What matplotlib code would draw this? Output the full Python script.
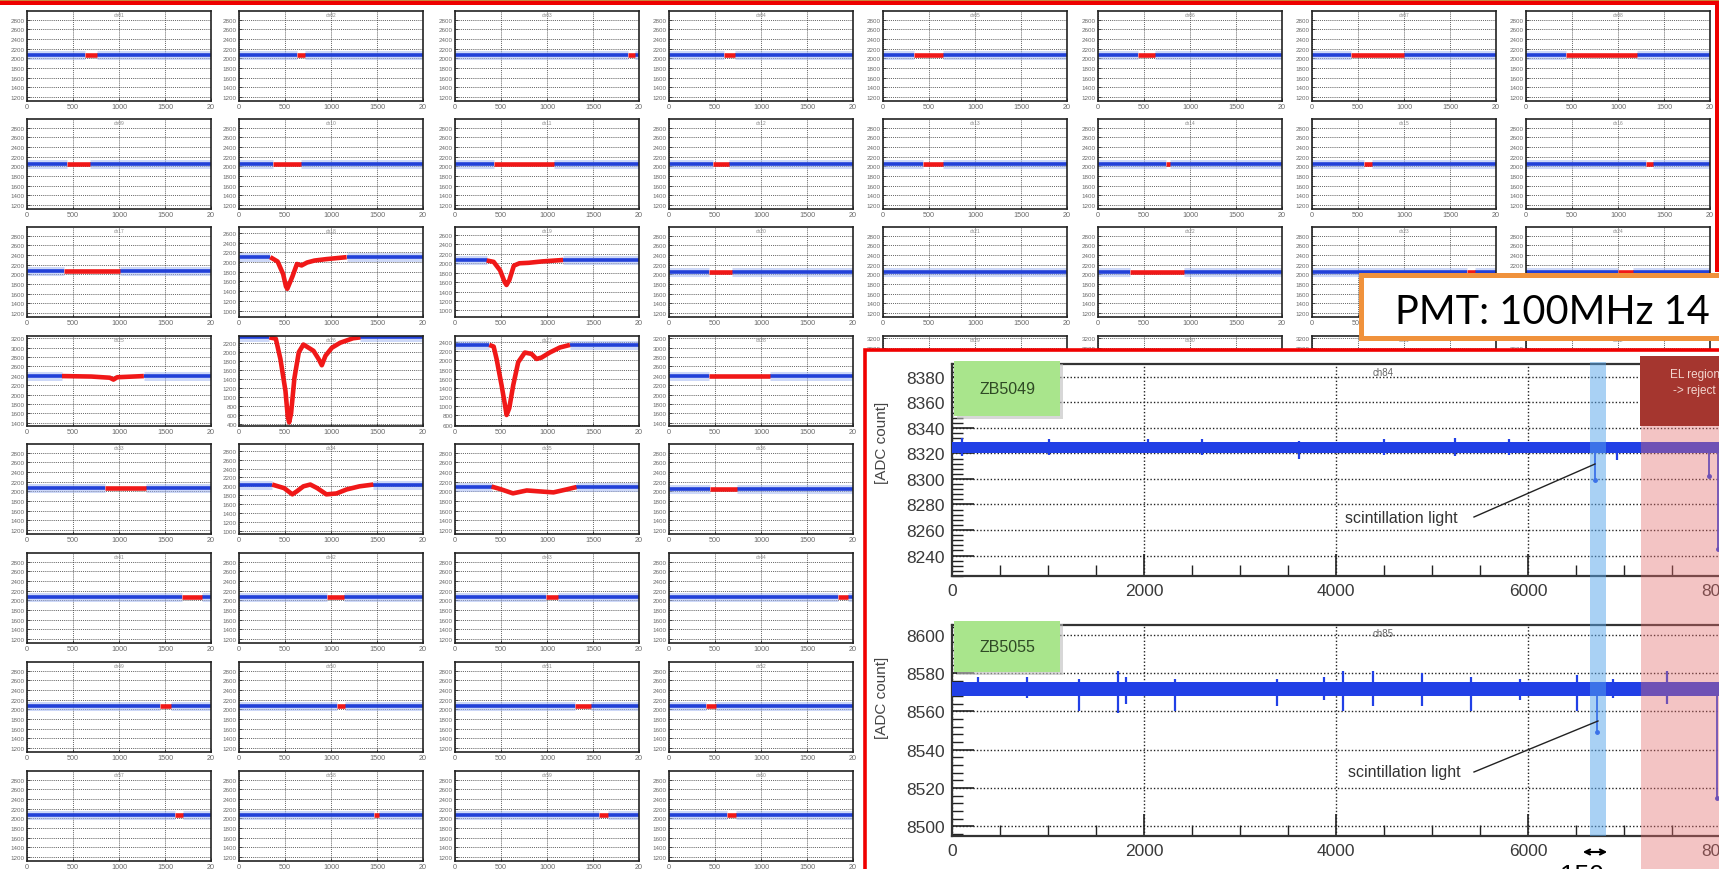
import numpy as np
import matplotlib
matplotlib.use("Agg")
import matplotlib.pyplot as plt
from matplotlib.patches import Rectangle, FancyArrowPatch
from matplotlib.lines import Line2D
from matplotlib.ticker import MultipleLocator

plt.rcParams['font.family'] = ['Liberation Sans', 'DejaVu Sans']

# ---------------------------------------------------------------- data
small_xticks = [0, 500, 1000, 1500, 2000]
small_xticklabels = ["0", "500", "1000", "1500", "20"]

# baseline ADC level of each small waveform panel (rows 5-8 only 4 visible columns)
baseline = [
    [2080, 2080, 2080, 2080, 2070, 2070, 2070, 2070],
    [2040, 2040, 2050, 2040, 2040, 2040, 2040, 2040],
    [2080, 2100, 2060, 2040, 2060, 2060, 2050, 2050],
    [2400, 2320, 2336, 2390, 2400, 2400, 2400, 2400],
    [2080, 2040, 2100, 2050],
    [2070, 2070, 2070, 2070],
    [2070, 2070, 2070, 2070],
    [2070, 2070, 2070, 2070],
]
ylim_low = [
    [1120] * 8,
    [1120] * 8,
    [1120, 870, 860, 1120, 1120, 1120, 1120, 1120],
    [1330, 350, 570, 1330, 1330, 1330, 1330, 1330],
    [1120, 930, 1120, 1120],
    [1120] * 4,
    [1120] * 4,
    [1120] * 4,
]
ylim_high = [
    [2980] * 8,
    [2980] * 8,
    [2980, 2720, 2770, 2980, 2980, 2980, 2980, 2980],
    [3250, 2350, 2530, 3250, 3250, 3250, 3250, 3250],
    [2980, 2950, 2980, 2980],
    [2980] * 4,
    [2980] * 4,
    [2980] * 4,
]
# red (selected) window of each panel, None = no window
red_start = [
    [630, 630, 1880, 600, 340, 440, 420, 440],
    [435, 365, 420, 480, 435, 740, 560, 1300],
    [400, 340, 344, 430, None, 350, 1680, 1000],
    [380, 330, 372, 430, 400, 400, 400, 400],
    [850, 360, 398, 445],
    [1680, 960, 990, 1840],
    [1450, 1060, 1300, 400],
    [1610, 1470, 1570, 635],
]
red_end = [
    [760, 720, 1960, 720, 650, 620, 1000, 1210],
    [680, 670, 1080, 650, 650, 780, 650, 1380],
    [1010, 1170, 1175, 680, None, 940, 1770, 1160],
    [1270, 1320, 1250, 1100, 900, 900, 900, 900],
    [1290, 1460, 1320, 735],
    [1900, 1140, 1120, 1950],
    [1560, 1150, 1480, 510],
    [1700, 1525, 1660, 730],
]

# pulse shapes (red part)
pulse_r3c2_x = [340, 420, 480, 510, 525, 545, 580, 630, 680, 740, 820, 950, 1170]
pulse_r3c2_y = [2100, 2010, 1750, 1500, 1450, 1540, 1700, 1960, 1930, 1990, 2030, 2060, 2100]
pulse_r3c3_x = [344, 420, 490, 540, 560, 590, 640, 700, 800, 950, 1175]
pulse_r3c3_y = [2060, 2030, 1850, 1600, 1540, 1640, 1950, 2000, 2010, 2040, 2070]
pulse_r4c1_x = [380, 700, 900, 940, 980, 1270]
pulse_r4c1_y = [2395, 2385, 2360, 2320, 2370, 2395]
pulse_r4c2_x = [330, 400, 450, 505, 530, 545, 566, 602, 650, 700, 740, 810, 865, 900, 940, 1010, 1100, 1240, 1320]
pulse_r4c2_y = [2320, 2290, 1840, 1130, 560, 430, 630, 1410, 1990, 2160, 2110, 2020, 1840, 1700, 1910, 2090, 2200, 2300, 2320]
pulse_r4c3_x = [372, 420, 452, 506, 543, 561, 590, 633, 687, 759, 832, 886, 940, 1030, 1140, 1250]
pulse_r4c3_y = [2336, 2300, 2030, 1460, 1030, 810, 960, 1460, 1960, 2170, 2140, 2030, 2060, 2170, 2280, 2336]
pulse_r5c2_x = [360, 490, 580, 630, 700, 775, 850, 950, 1060, 1170, 1310, 1460]
pulse_r5c2_y = [2040, 1960, 1820, 1890, 2000, 2040, 1960, 1820, 1840, 1930, 2000, 2040]
pulse_r5c3_x = [398, 490, 630, 780, 920, 1070, 1210, 1320]
pulse_r5c3_y = [2100, 2050, 1960, 2020, 2000, 1980, 2040, 2090]

# large inset waveforms
inset_xticks = [0, 2000, 4000, 6000, 8000]
inset_xticklabels = ["0", "2000", "4000", "6000", "8000"]

ch84_yticks = [8240, 8260, 8280, 8300, 8320, 8340, 8360, 8380]
ch84_ylim = (8224, 8390)
ch84_band = (8320, 8329)
ch84_spike_x = [100, 1013, 2042, 2600, 3614, 4500, 5239, 5800, 6927]
ch84_spike_hi = [8332, 8331, 8331, 8331, 8330, 8331, 8332, 8331, 8329]
ch84_spike_lo = [8318, 8319, 8320, 8319, 8316, 8319, 8318, 8319, 8315]
ch84_pulse_x = [6700, 7886, 7975]
ch84_pulse_min = [8299, 8302, 8245]

ch85_yticks = [8500, 8520, 8540, 8560, 8580, 8600]
ch85_ylim = (8495, 8605)
ch85_band = (8568, 8575.5)
ch85_spike_x = [271, 781, 1323, 1729, 1812, 2323, 3385, 3875, 4073, 4382, 4893, 5403, 5916, 6507, 6888, 7445]
ch85_spike_hi = [8578, 8578, 8577, 8581, 8578, 8577, 8577, 8578, 8581, 8581, 8580, 8578, 8577, 8579, 8577, 8581]
ch85_spike_lo = [8568, 8567, 8560, 8559, 8564, 8560, 8563, 8566, 8560, 8563, 8563, 8560, 8566, 8560, 8567, 8564]
ch85_pulse_x = [6715, 7966]
ch85_pulse_min = [8549, 8515]

# ---------------------------------------------------------------- helpers
W, H = 1719, 870
fig = plt.figure(figsize=(W / 100, H / 100), dpi=100)
fig.patch.set_facecolor('white')


def axes_px(left, top, width, height):
    return fig.add_axes([left / W, 1 - (top + height) / H, width / W, height / H])


def rect_px(x0, y0, x1, y1, **kw):
    r = Rectangle((x0 / W, 1 - y1 / H), (x1 - x0) / W, (y1 - y0) / H,
                  transform=fig.transFigure, **kw)
    fig.add_artist(r)
    return r


def text_px(x, y, s, **kw):
    return fig.text(x / W, 1 - y / H, s, **kw)


def line_px(xs, ys, **kw):
    ln = Line2D([x / W for x in xs], [1 - y / H for y in ys], transform=fig.transFigure, **kw)
    fig.add_artist(ln)
    return ln


pulses = {
    (2, 1): (pulse_r3c2_x, pulse_r3c2_y),
    (2, 2): (pulse_r3c3_x, pulse_r3c3_y),
    (3, 0): (pulse_r4c1_x, pulse_r4c1_y),
    (3, 1): (pulse_r4c2_x, pulse_r4c2_y),
    (3, 2): (pulse_r4c3_x, pulse_r4c3_y),
    (4, 1): (pulse_r5c2_x, pulse_r5c2_y),
    (4, 2): (pulse_r5c3_x, pulse_r5c3_y),
}

COL_LEFT = [27, 239, 455, 669, 883, 1098, 1312, 1526]
ROW_TOP = [12, 120, 228, 337, 445, 554, 663, 772]
PW, PH = 184, 90
BLUE = '#2140d8'
HALO = '#9db2f2'
RED = '#f01818'

# ---------------------------------------------------------------- small panels
for r in range(8):
    for c in range(len(baseline[r])):
        ax = axes_px(COL_LEFT[c], ROW_TOP[r], PW, PH)
        ax.set_zorder(0)
        lo, hi = ylim_low[r][c], ylim_high[r][c]
        ax.set_xlim(0, 2000)
        ax.set_ylim(lo, hi)
        yt = np.arange(np.ceil(lo / 200) * 200, hi + 1, 200)
        ax.set_yticks(yt)
        ax.set_yticklabels([f"{int(v)}" for v in yt])
        ax.set_xticks(small_xticks)
        ax.set_xticklabels(small_xticklabels)
        ax.tick_params(direction='in', length=2, width=0.6, labelsize=4.5,
                       labelcolor='#6a6a6a', pad=1.5, color='#333')
        ax.tick_params(axis='x', labelsize=5.2)
        ax.grid(True, ls=(0, (1, 1.3)), color='#333', lw=0.6)
        for s in ax.spines.values():
            s.set_linewidth(1.2)
            s.set_color('#222')
        b = baseline[r][c]
        rs, re = red_start[r][c], red_end[r][c]
        if rs is None:
            segs = [([0, 2000], [b, b])]
        else:
            segs = [([0, rs], [b, b]), ([re, 2000], [b, b])]
        for xs, ys in segs:
            ax.plot(xs, ys, color=HALO, lw=6.5, alpha=0.5, solid_capstyle='butt')
            ax.plot(xs, ys, color=BLUE, lw=2.6, solid_capstyle='butt')
        if rs is not None:
            if (r, c) in pulses:
                pxs, pys = pulses[(r, c)]
            else:
                pxs, pys = [rs, re], [b, b]
            ax.plot(pxs, pys, color=RED, lw=3.3, solid_capstyle='butt', solid_joinstyle='round')
        ax.text(0.5, 0.985, f"ch{r * 8 + c + 1:02d}", transform=ax.transAxes,
                ha='center', va='top', fontsize=3.5, color='#888')

# ---------------------------------------------------------------- inset
rect_px(864.5, 350.5, 1780, 900, facecolor='white', edgecolor='#f00000', lw=2.6, zorder=1)

IBLUE = '#2140e6'


def inset_axes(top, bottom, ylim, yticks, title, band, sx, shi, slo, px, pmin):
    ax = axes_px(952, top, 8200 * 0.096, bottom - top)
    ax.set_zorder(2)
    ax.set_xlim(0, 8200)
    ax.set_ylim(*ylim)
    ax.set_xticks(inset_xticks)
    ax.set_xticklabels(inset_xticklabels)
    ax.xaxis.set_minor_locator(MultipleLocator(500))
    ax.set_yticks(yticks)
    ax.yaxis.set_minor_locator(MultipleLocator(4))
    ax.tick_params(which='major', direction='in', length=16, width=1.2,
                   labelsize=12.5, labelcolor='#3a3a3a', color='#222', pad=5)
    ax.tick_params(which='minor', direction='in', length=8, width=1, color='#222')
    ax.grid(True, which='major', ls=(0, (1, 1.5)), color='#222', lw=1)
    for s in ax.spines.values():
        s.set_linewidth(1.6)
        s.set_color('#333')
    ax.fill_between([0, 7990], band[0], band[1], color=IBLUE, lw=0, zorder=3)
    ax.vlines(sx, slo, shi, color=IBLUE, lw=1.6, zorder=3)
    ax.vlines(px, band[0], pmin, color=IBLUE, lw=1.3, zorder=3)
    ax.plot(px, pmin, 'o', ms=2.5, color=IBLUE, zorder=3)
    ax.text(0.5 * 7990 / 8200 + 0.06, 0.985, title, transform=ax.transAxes,
            ha='center', va='top', fontsize=7, color='#666')
    return ax


ax84 = inset_axes(365, 577, ch84_ylim, ch84_yticks, "ch84", ch84_band,
                  ch84_spike_x, ch84_spike_hi, ch84_spike_lo, ch84_pulse_x, ch84_pulse_min)
ax85 = inset_axes(626, 837, ch85_ylim, ch85_yticks, "ch85", ch85_band,
                  ch85_spike_x, ch85_spike_hi, ch85_spike_lo, ch85_pulse_x, ch85_pulse_min)

text_px(882, 443, "[ADC count]", rotation=90, ha='center', va='center', fontsize=11, color='#444', zorder=5)
text_px(882, 698, "[ADC count]", rotation=90, ha='center', va='center', fontsize=11, color='#444', zorder=5)

# overlays
rect_px(1590, 363, 1606, 837, facecolor='#55a5eb', alpha=0.5, lw=0, zorder=3)
rect_px(1641, 427, 1780, 900, facecolor='#e36c6c', alpha=0.4, lw=0, zorder=3)
rect_px(1640, 357, 1780, 427, facecolor='#a5362f', lw=0, zorder=3)
text_px(1670, 375, "EL region", ha='left', va='center', fontsize=8.5, color='#f3d6cf', zorder=5)
text_px(1673, 391, "-> reject", ha='left', va='center', fontsize=8.5, color='#f3d6cf', zorder=5)

for (y0, y1, label, ty) in [(362, 417, "ZB5049", 390), (622, 673, "ZB5055", 648)]:
    rect_px(957, y0 + 3, 1063, y1 + 3, facecolor='#bdbdbd', alpha=0.6, lw=0, zorder=4)
    rect_px(954, y0, 1060, y1, facecolor='#a9e58c', lw=0, zorder=4)
    text_px(1007, ty, label, ha='center', va='center', fontsize=11.5, color='#2f4a25', zorder=5)

text_px(1345, 518, "scintillation light", ha='left', va='center', fontsize=11.5, color='#333', zorder=5)
line_px([1474, 1595], [518, 465], color='#222', lw=1, zorder=5)
text_px(1348, 773, "scintillation light", ha='left', va='center', fontsize=11.5, color='#333', zorder=5)
line_px([1474, 1598], [773, 722], color='#222', lw=1, zorder=5)

arr = FancyArrowPatch((1580 / W, 1 - 853 / H), (1610 / W, 1 - 853 / H), transform=fig.transFigure,
                      arrowstyle='<->', mutation_scale=9, lw=1.5, color='black', zorder=5)
fig.add_artist(arr)
text_px(1560, 864, "150 ns", ha='left', va='top', fontsize=19, color='black', zorder=5)

# orange title box
rect_px(1360.5, 275.5, 1780, 338.5, facecolor='white', edgecolor='#f0923c', lw=3.6, zorder=6)
text_px(1395, 324, "PMT: 100MHz 14", ha='left', va='baseline', fontsize=28.5,
        family=['Lato', 'DejaVu Sans'], color='black', zorder=7)

# slide frame
rect_px(0, 0, W, 2, facecolor='#c9853c', lw=0, zorder=8)
rect_px(0, 2, W, 5.5, facecolor='#ee0000', lw=0, zorder=8)
rect_px(1715, 2, 1719, 273, facecolor='#ee0000', lw=0, zorder=8)

fig.savefig("out.png", dpi=100, facecolor='white')
